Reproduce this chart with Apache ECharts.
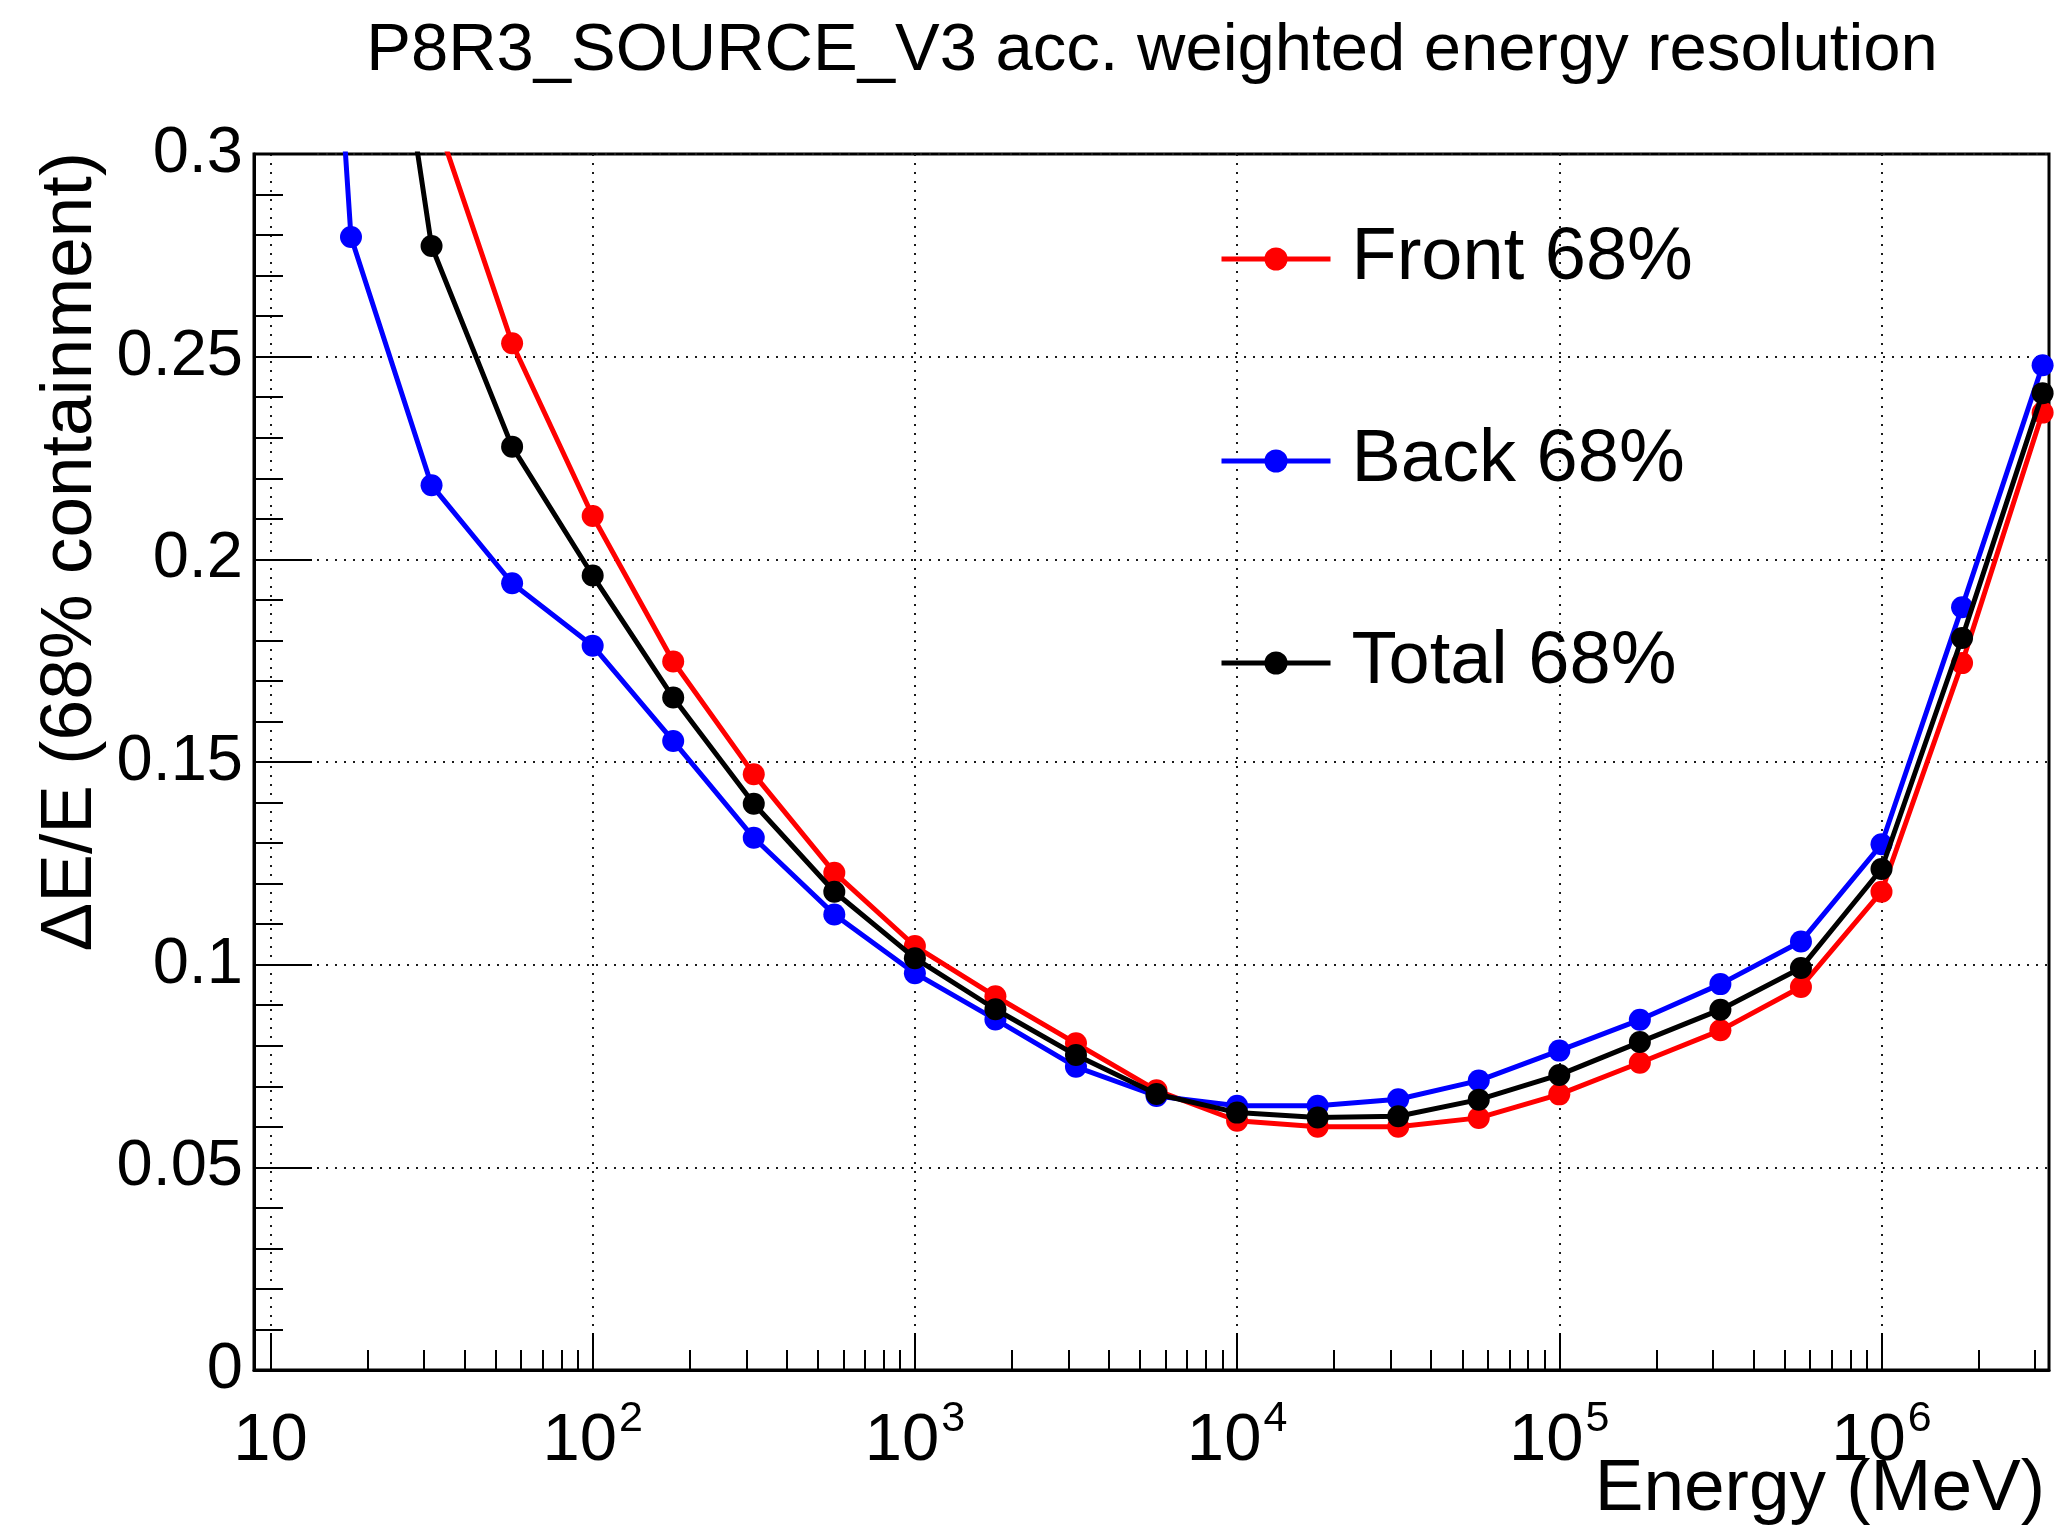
<!DOCTYPE html>
<html>
<head>
<meta charset="utf-8">
<title>P8R3_SOURCE_V3 acc. weighted energy resolution</title>
<script src="https://cdn.jsdelivr.net/npm/echarts@6/dist/echarts.min.js"></script>
<style>
  html, body { margin: 0; padding: 0; background: #ffffff; }
  #chart { width: 2060px; height: 1530px; }
</style>
</head>
<body>
<div id="chart"></div>
<script>
// Energy bins (MeV), quarter-decade spacing from 10 MeV to ~3.2 TeV
const energies = [10, 17.78, 31.62, 56.23, 100, 177.8, 316.2, 562.3, 1000, 1778, 3162, 5623,
  10000, 17783, 31623, 56234, 100000, 177828, 316228, 562341, 1000000, 1778279, 3162278];

// 68% containment energy resolution, dE/E (null = no point in that bin)
const front = [null, null, 0.312, 0.2533, 0.2107, 0.1748, 0.1470, 0.1227, 0.1046, 0.0922, 0.0806, 0.0690,
  0.0615, 0.0600, 0.0600, 0.0622, 0.0680, 0.0758, 0.0838, 0.0945, 0.1180, 0.1744, 0.2362];
const back = [0.58, 0.2795, 0.2183, 0.1941, 0.1787, 0.1552, 0.1313, 0.1124, 0.0979, 0.0865, 0.0748, 0.0676,
  0.0652, 0.0652, 0.0668, 0.0714, 0.0788, 0.0864, 0.0952, 0.1057, 0.1297, 0.1882, 0.2479];
const total = [null, 0.41, 0.2773, 0.2278, 0.1960, 0.1659, 0.1397, 0.1180, 0.1016, 0.0890, 0.0777, 0.0681,
  0.0635, 0.0623, 0.0626, 0.0667, 0.0728, 0.0809, 0.0889, 0.0992, 0.1236, 0.1806, 0.2410];

const seriesNames = ['Front 68%', 'Back 68%', 'Total 68%'];
const seriesColors = ['#ff0000', '#0000ff', '#000000'];

// Log-axis tick positions
const majorTicksX = [10, 100, 1000, 10000, 100000, 1000000];
const minorTicksX = [20, 30, 40, 50, 60, 70, 80, 90,
  200, 300, 400, 500, 600, 700, 800, 900,
  2000, 3000, 4000, 5000, 6000, 7000, 8000, 9000,
  20000, 30000, 40000, 50000, 60000, 70000, 80000, 90000,
  200000, 300000, 400000, 500000, 600000, 700000, 800000, 900000,
  2000000, 3000000];

const FONT = 'Liberation Sans, Arial, Helvetica, sans-serif';
const X_MIN = 8.89, X_MAX = 3.31e6;

function toPairs(values) {
  const out = [];
  values.forEach((v, i) => { if (v !== null) out.push([energies[i], v]); });
  return out;
}

const dotted = { color: '#1a1a1a', width: 2, type: [2, 7] };

const chart = echarts.init(document.getElementById('chart'), null, { renderer: 'canvas' });

chart.setOption({
  animation: false,
  backgroundColor: '#ffffff',
  title: {
    text: 'P8R3_SOURCE_V3 acc. weighted energy resolution',
    left: 1152,
    top: 18,
    textAlign: 'center',
    padding: 0,
    textStyle: { fontFamily: FONT, fontSize: 67, lineHeight: 67, fontWeight: 'normal', color: '#000' }
  },
  grid: {
    left: 254, right: 11, top: 154, bottom: 160,
    show: true, borderColor: '#000', borderWidth: 3, backgroundColor: 'transparent',
    outerBoundsMode: 'none'
  },
  legend: {
    orient: 'vertical',
    left: 1219,
    top: 222,
    padding: 0,
    itemGap: 128,
    itemWidth: 109,
    itemHeight: 29,
    selectedMode: false,
    lineStyle: { width: 5 },
    textStyle: { fontFamily: FONT, fontSize: 74, color: '#000', padding: [0, 0, 0, 16] },
    data: seriesNames
  },
  xAxis: [
    {
      type: 'log',
      min: X_MIN,
      max: X_MAX,
      position: 'bottom',
      axisLine: { show: true, lineStyle: { color: '#000', width: 3 } },
      axisTick: { show: true, inside: true, length: 37, customValues: majorTicksX,
        lineStyle: { color: '#000', width: 2 } },
      axisLabel: {
        show: true,
        customValues: majorTicksX,
        margin: 28,
        color: '#000',
        fontFamily: FONT,
        fontSize: 67,
        formatter: function (v) {
          const e = Math.round(Math.log10(v));
          return e === 1 ? '{b|10}' : '{b|10}{sup|' + e + '}';
        },
        rich: {
          b: { fontFamily: FONT, fontSize: 67, color: '#000', padding: [10, 0, 0, 0] },
          sup: { fontFamily: FONT, fontSize: 43, color: '#000', verticalAlign: 'top', padding: [0, 0, 0, 2] }
        }
      },
      splitLine: { show: true, lineStyle: dotted },
      minorTick: { show: false },
      minorSplitLine: { show: false }
    },
    {
      // second copy of the energy scale, carrying only the 2..9 sub-decade ticks
      type: 'log',
      min: X_MIN,
      max: X_MAX,
      position: 'bottom',
      axisLine: { show: false },
      axisTick: { show: true, inside: true, length: 20, customValues: minorTicksX,
        lineStyle: { color: '#000', width: 2 } },
      axisLabel: { show: false },
      splitLine: { show: false }
    }
  ],
  yAxis: {
    type: 'value',
    min: 0,
    max: 0.3,
    interval: 0.05,
    position: 'left',
    axisLine: { show: true, lineStyle: { color: '#000', width: 3 } },
    axisTick: { show: true, inside: true, length: 58, lineStyle: { color: '#000', width: 2 } },
    minorTick: { show: true, splitNumber: 5, length: 29, lineStyle: { color: '#000', width: 2 } },
    axisLabel: {
      margin: 11,
      color: '#000',
      fontFamily: FONT,
      fontSize: 65,
      formatter: function (v) { return String(Math.round(v * 100) / 100); }
    },
    splitLine: { show: true, lineStyle: dotted },
    minorSplitLine: { show: false }
  },
  graphic: [
    {
      type: 'text',
      x: 2045,
      y: 1490,
      style: { text: 'Energy (MeV)', font: '73px ' + FONT, fill: '#000',
        textAlign: 'right', textVerticalAlign: 'middle' }
    },
    {
      type: 'text',
      x: 71,
      y: 152,
      rotation: Math.PI / 2,
      style: { text: '\u0394E/E (68% containment)', font: '73px ' + FONT, fill: '#000',
        textAlign: 'right', textVerticalAlign: 'middle' }
    }
  ],
  series: [front, back, total].map((vals, i) => ({
    name: seriesNames[i],
    type: 'line',
    xAxisIndex: 0,
    yAxisIndex: 0,
    data: toPairs(vals),
    symbol: 'circle',
    symbolSize: 22,
    showSymbol: true,
    clip: true,
    lineStyle: { color: seriesColors[i], width: 5 },
    itemStyle: { color: seriesColors[i] },
    emphasis: { disabled: true },
    z: 3 + i
  }))
});
</script>
</body>
</html>
